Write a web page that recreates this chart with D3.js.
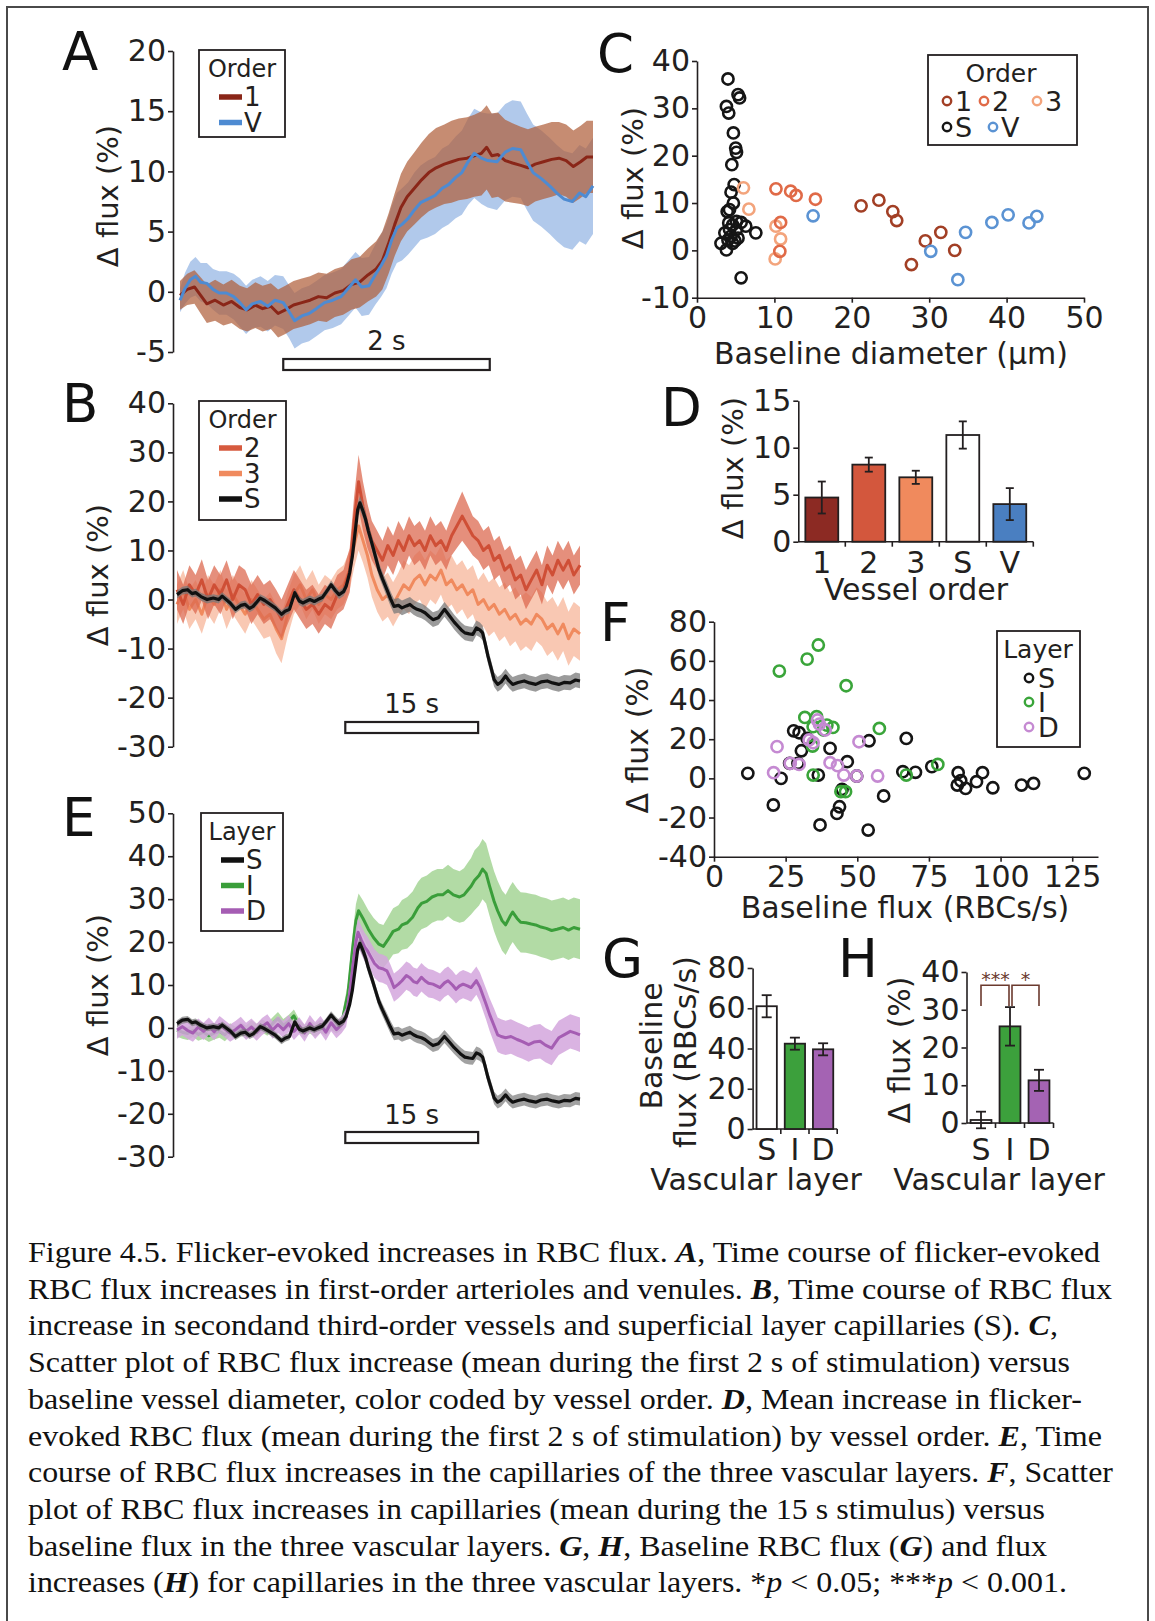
<!DOCTYPE html>
<html><head><meta charset="utf-8">
<script src="https://cdn.jsdelivr.net/npm/d3@7"></script>
<style>body{margin:0;background:#fff}</style>
</head><body>
<script>
// ---------------- DATA ----------------
// Panel A: [time (s), mean Δflux (%), sem]
const aOrder1 = [[-1.00,-0.3,1.2],[-0.93,0.2,1.3],[-0.86,0.4,1.4],[-0.80,-0.3,1.5],[-0.74,-1.0,1.6],[-0.66,-0.7,1.7],[-0.58,-1.1,1.7],[-0.50,-0.8,1.8],[-0.42,-1.3,1.8],[-0.35,-1.5,1.8],[-0.27,-1.1,1.9],[-0.20,-1.4,1.9],[-0.12,-1.2,1.9],[-0.05,-1.8,2.0],[0.02,-1.5,2.0],[0.10,-1.1,2.0],[0.18,-0.9,2.0],[0.26,-0.7,2.0],[0.34,-0.4,2.0],[0.42,-0.5,2.0],[0.50,-0.1,2.0],[0.58,0.1,2.0],[0.66,0.6,2.1],[0.74,0.8,2.1],[0.82,1.4,2.2],[0.90,1.9,2.3],[0.96,2.6,2.4],[1.02,4.0,2.5],[1.08,5.6,2.6],[1.14,7.0,2.8],[1.20,7.9,2.9],[1.27,8.6,3.0],[1.34,9.3,3.1],[1.41,9.9,3.2],[1.48,10.3,3.3],[1.56,10.6,3.3],[1.63,10.8,3.4],[1.70,11.0,3.4],[1.78,11.1,3.4],[1.85,11.3,3.4],[1.92,11.5,3.5],[1.97,12.0,3.5],[2.02,11.3,3.5],[2.08,11.4,3.5],[2.15,10.9,3.4],[2.22,10.7,3.3],[2.30,10.5,3.2],[2.37,10.3,3.2],[2.44,10.6,3.1],[2.52,10.8,3.1],[2.60,11.0,3.1],[2.67,11.1,3.0],[2.74,10.9,3.0],[2.81,10.4,3.0],[2.88,10.8,3.0],[2.94,11.2,3.0],[3.00,11.2,3.0]];
const aVenule = [[-1.00,-0.7,1.0],[-0.95,0.3,1.3],[-0.90,1.0,1.5],[-0.85,1.3,1.6],[-0.80,0.8,1.6],[-0.74,0.7,1.7],[-0.68,0.2,1.7],[-0.62,-0.1,1.8],[-0.55,-0.1,1.8],[-0.48,-0.4,1.9],[-0.42,-0.9,2.0],[-0.36,-1.5,2.0],[-0.30,-1.0,2.0],[-0.22,-0.8,2.1],[-0.15,-1.2,2.1],[-0.08,-0.7,2.1],[0.00,-0.9,2.2],[0.06,-1.7,2.2],[0.11,-2.4,2.3],[0.18,-2.0,2.3],[0.25,-1.8,2.3],[0.32,-1.4,2.3],[0.40,-0.9,2.3],[0.48,-0.7,2.3],[0.56,-0.4,2.3],[0.63,0.3,2.3],[0.70,1.0,2.3],[0.76,0.4,2.4],[0.83,0.5,2.4],[0.89,1.4,2.5],[0.95,2.2,2.6],[1.00,3.0,2.7],[1.05,4.3,2.8],[1.10,5.3,2.9],[1.15,5.6,3.0],[1.21,6.1,3.0],[1.27,6.8,3.1],[1.33,7.4,3.1],[1.40,7.7,3.2],[1.47,8.0,3.2],[1.54,8.6,3.3],[1.60,8.9,3.3],[1.67,9.5,3.4],[1.73,9.9,3.5],[1.79,10.8,3.6],[1.85,11.5,3.7],[1.92,11.1,3.8],[1.98,10.9,3.9],[2.07,10.8,4.0],[2.15,11.6,4.0],[2.22,11.9,4.0],[2.30,11.8,4.0],[2.36,10.8,4.0],[2.42,9.9,4.0],[2.50,9.4,4.0],[2.58,8.8,4.0],[2.65,8.2,4.0],[2.72,7.7,4.0],[2.80,7.5,4.0],[2.87,8.2,4.0],[2.93,7.9,4.0],[3.00,8.8,4.0]];

// Panels B & E: [time (s), mean Δflux (%), sem]
const capS = [[-19.0,1.0,0.8],[-18.4,1.8,0.8],[-17.8,2.0,0.8],[-17.3,1.2,0.8],[-16.9,1.4,0.8],[-16.3,0.6,0.8],[-15.6,0.0,0.8],[-14.9,0.3,0.8],[-14.3,0.0,0.8],[-13.9,0.7,0.8],[-13.0,-0.7,0.8],[-12.4,-2.0,0.8],[-11.8,-1.2,0.8],[-11.3,-1.0,0.8],[-10.8,-1.8,0.8],[-10.4,-1.4,0.8],[-9.6,0.3,0.8],[-9.1,-0.2,0.8],[-8.7,-0.7,0.8],[-7.9,-1.7,0.8],[-7.2,-3.0,0.8],[-6.8,-2.4,0.8],[-6.3,-2.0,0.8],[-5.7,1.4,0.8],[-5.2,-0.3,0.8],[-4.8,-0.7,0.8],[-4.0,0.0,0.8],[-3.5,-0.4,0.8],[-3.1,0.0,0.8],[-2.6,0.4,0.8],[-2.2,1.4,0.8],[-1.6,3.0,0.9],[-1.1,1.8,0.9],[-0.7,1.0,0.9],[-0.2,1.6,0.9],[0.1,2.7,1.0],[0.5,5.5,1.1],[0.8,8.8,1.2],[1.1,13.5,1.3],[1.4,18.3,1.4],[1.65,19.7,1.4],[2.0,18.0,1.4],[2.3,16.3,1.4],[2.6,14.0,1.4],[3.0,11.5,1.4],[3.4,8.8,1.4],[3.8,6.1,1.4],[4.2,4.2,1.4],[4.7,2.0,1.5],[5.1,0.2,1.5],[5.5,-1.4,1.5],[6.0,-1.2,1.5],[6.4,-1.7,1.5],[6.9,-1.3,1.5],[7.3,-1.0,1.5],[7.7,-1.6,1.5],[8.1,-2.0,1.5],[8.6,-2.3,1.5],[9.0,-2.7,1.5],[9.5,-3.5,1.5],[9.9,-4.1,1.5],[10.5,-3.7,1.5],[11.2,-2.0,1.5],[11.8,-3.4,1.5],[12.3,-4.6,1.5],[12.7,-5.4,1.5],[13.1,-6.2,1.5],[13.5,-6.8,1.5],[14.0,-7.0,1.5],[14.4,-7.1,1.5],[14.8,-5.8,1.5],[15.2,-6.2,1.5],[15.5,-6.8,1.5],[15.8,-9.0,1.5],[16.1,-11.5,1.5],[16.5,-14.2,1.5],[16.8,-16.3,1.5],[17.2,-17.3,1.5],[17.6,-16.8,1.5],[18.1,-15.6,1.5],[18.5,-16.6,1.5],[18.9,-17.3,1.5],[19.5,-16.9,1.5],[20.2,-16.6,1.5],[20.8,-17.0,1.5],[21.5,-17.3,1.5],[22.1,-16.8,1.5],[22.8,-16.6,1.5],[23.4,-17.0,1.5],[24.1,-17.3,1.5],[24.7,-16.9,1.5],[25.4,-17.0,1.5],[26.0,-16.4,1.5],[26.5,-16.6,1.5]];
const bOrder2 = [[-19.0,2,4],[-18.3,-1,4],[-17.6,3,4],[-16.9,1,4],[-16.2,4,4.2],[-15.5,0,4],[-14.8,3,4],[-14.1,1,4],[-13.4,4,4],[-12.7,0,4],[-12.0,3,4],[-11.3,2,4],[-10.6,-1,4],[-9.9,1,4],[-9.2,-1,4],[-8.5,0,4],[-7.8,-2,4],[-7.2,-4,4],[-6.5,-1,4],[-5.8,2,4],[-5.1,0,4],[-4.4,-2,4],[-3.7,-1,4],[-3.0,-3,4],[-2.3,-1,4],[-1.6,-2,4],[-0.9,1,4],[-0.2,2,4],[0.5,6,4.5],[1.0,16,5],[1.5,24,5.5],[2.0,19,5],[2.5,15,4.5],[3.0,12,4],[3.6,10,4],[4.2,8,4],[4.8,11,4],[5.4,9,4],[6.0,12,4],[6.6,10,4],[7.2,13,4],[7.8,11,4],[8.4,12,4],[9.0,10,4],[9.6,13,4],[10.2,11,4],[10.8,12,4],[11.4,10,4],[12.0,13,4],[12.6,15,4.5],[13.2,17,5],[13.8,15,4.5],[14.4,13,4],[15.0,12,4],[15.6,10,4],[16.2,11,4],[16.8,8,4],[17.4,9,4],[18.0,6,4],[18.6,7,4],[19.2,4,4],[19.8,5,4],[20.4,2,4],[21.0,4,4],[21.6,6,4],[22.2,3,4],[22.8,7,4],[23.4,5,4],[24.0,8,4],[24.6,6,4],[25.2,8,4],[25.8,5,4],[26.5,7,4]];
const bOrder3 = [[-19.0,-1,4],[-18.3,2,4],[-17.6,-2,4],[-16.9,0,4],[-16.2,-3,4],[-15.5,1,4],[-14.8,-1,4],[-14.1,2,4],[-13.4,-2,4],[-12.7,1,4],[-12.0,-1,4],[-11.3,-3,4],[-10.6,0,4],[-9.9,-2,4],[-9.2,-4,4],[-8.5,-3,4.5],[-7.8,-6,5],[-7.2,-8,5],[-6.5,-3,4.5],[-5.8,1,4],[-5.1,3,4],[-4.4,0,4],[-3.7,2,4],[-3.0,-1,4],[-2.3,1,4],[-1.6,0,4],[-0.9,2,4],[-0.2,3,4],[0.5,6,4],[1.0,11,4.5],[1.5,15,5],[2.0,12,4.5],[2.5,9,4.5],[3.0,5,4.5],[3.6,2,4.5],[4.2,0,4.5],[4.8,1,4.5],[5.4,-1,4.5],[6.0,1,4.5],[6.6,3,5],[7.2,2,5],[7.8,4,5],[8.4,5,5],[9.0,3,5],[9.6,5,5],[10.2,4,5],[10.8,6,5],[11.4,3,5],[12.0,4,5],[12.6,2,5],[13.2,3,5],[13.8,1,5],[14.4,2,5],[15.0,-1,5],[15.6,0,5.5],[16.2,-2,5.5],[16.8,-1,5.5],[17.4,-3,5.5],[18.0,-2,5.5],[18.6,-4,5.5],[19.2,-3,5.5],[19.8,-5,5.5],[20.4,-4,5.5],[21.0,-5,5.5],[21.6,-3,5.5],[22.2,-4,5.5],[22.8,-6,5.5],[23.4,-5,5.5],[24.0,-7,5.5],[24.6,-5,5.5],[25.2,-8,5.5],[25.8,-6,5.5],[26.5,-7,5.5]];
const eLayerI = [[-19,-0.5,1.5],[-18.4,-1.0,1.5],[-17.8,-1.3,1.5],[-17.2,-0.6,1.5],[-16.6,-1.5,1.5],[-16.0,-1.0,1.5],[-15.4,-1.8,1.5],[-14.8,-1.2,1.5],[-14.2,-0.8,1.5],[-13.6,-1.6,1.5],[-13.0,-0.4,1.5],[-12.4,-1.2,1.5],[-11.8,-0.2,1.5],[-11.2,-1.0,1.5],[-10.6,0.3,1.5],[-10.0,-0.6,1.5],[-9.4,0.5,1.5],[-8.8,-0.3,1.5],[-8.2,1.0,1.5],[-7.6,2.2,1.5],[-7.0,0.6,1.5],[-6.4,1.5,1.5],[-5.8,2.8,1.5],[-5.2,0.5,1.5],[-4.6,-0.8,1.5],[-4.0,0.2,1.5],[-3.4,-0.5,1.5],[-2.8,0.4,1.5],[-2.2,-0.4,1.5],[-1.6,1.0,1.5],[-1.0,0.2,1.5],[-0.4,1.2,1.6],[0.3,8,2.5],[0.8,18,3.3],[1.2,25,3.8],[1.5,27.3,4],[2.0,25.5,4.2],[2.6,23,4.4],[3.2,21,4.6],[3.8,19.5,4.8],[4.3,19,5],[4.8,20.5,5.2],[5.4,22.5,5.4],[6.0,23,5.6],[6.4,24,5.8],[7.0,24.5,6],[7.6,25.8,6],[8.2,28,6],[8.6,29,6],[9.2,29.5,6],[9.8,30.5,6],[10.4,31,6],[11.0,31,6],[11.6,32,6],[12.2,31,6],[12.9,30.5,6],[13.4,31,6.2],[13.8,32,6.4],[14.2,33,6.6],[14.6,34.4,7],[15.1,35.5,7],[15.5,37,7],[15.9,36,7],[16.3,33,7],[16.8,29.5,7],[17.2,27.3,7],[17.7,25,7],[18.1,24,7],[18.6,26,7],[18.9,27,7],[19.4,25.5,7],[19.8,24.6,7],[20.4,24.5,7],[21.0,24.2,7],[21.5,24,7],[22.1,23.5,7],[22.7,23.2,7],[23.3,22.7,7],[23.9,23,7],[24.6,23.4,7],[25.2,22.8,7],[25.8,23.4,7],[26.5,23,7]];
const eLayerD = [[-19,-0.5,2],[-18.4,0.3,2],[-17.8,-0.6,2],[-17.2,-1.2,2],[-16.6,0.2,2],[-16.0,-0.8,2],[-15.4,0.4,2],[-14.8,-0.9,2],[-14.2,0.8,2],[-13.6,-0.2,2],[-13.0,-1.2,2],[-12.4,-0.4,2],[-11.8,0.6,2],[-11.2,-0.8,2],[-10.6,0.2,2],[-10.0,-1.0,2],[-9.4,0.3,2],[-8.8,1.2,2],[-8.2,-0.5,2],[-7.6,0.8,2],[-7.0,-0.4,2],[-6.4,1.0,2],[-5.8,-0.8,2],[-5.2,0.5,2],[-4.6,-1.2,2],[-4.0,1.0,2],[-3.4,-0.6,2],[-2.8,0.8,2],[-2.2,-1.0,2],[-1.6,1.2,2],[-1.0,-0.4,2],[-0.4,0.8,2],[0.1,2.5,2.2],[0.5,8,2.6],[0.9,15,3],[1.2,20,3.2],[1.45,22.3,3.3],[1.8,20.5,3.3],[2.2,18.8,3.3],[2.5,18,3.3],[2.9,16.5,3.3],[3.3,15,3.3],[3.8,14,3.3],[4.2,13.8,3.3],[4.7,13.3,3.3],[5.1,11.5,3.3],[5.5,9.4,3.3],[6.0,10.2,3.3],[6.4,11,3.3],[6.9,12.2,3.3],[7.3,11.7,3.3],[7.7,10.8,3.3],[8.1,10.5,3.3],[8.6,11.8,3.3],[9.0,11,3.3],[9.4,10.4,3.3],[9.9,10.2,3.3],[10.3,9.8,3.3],[10.7,9.4,3.3],[11.2,10.5,3.3],[11.6,11,3.3],[12.1,10,3.3],[12.5,9,3.3],[12.9,9.8,3.3],[13.3,10.2,3.3],[13.8,9.8,3.3],[14.2,9.4,3.3],[14.8,11,3.3],[15.2,9.5,3.4],[15.5,7.8,3.5],[15.9,5.5,3.6],[16.3,3.1,3.8],[16.8,0.5,4],[17.2,-1.6,4],[17.6,-2.0,4],[18.1,-2.3,4],[18.7,-2.0,4],[19.4,-2.7,4],[20.0,-3.2,4],[20.7,-3.9,4],[21.3,-3.3,4],[22.0,-3.1,4],[22.6,-4.0,4],[23.3,-4.7,4],[23.7,-3.5,4],[24.1,-2.3,4],[24.8,-1.5,4],[25.4,-0.8,4],[26.0,-1.2,4],[26.5,-1.6,4]];

// Panel C: [baseline diameter (µm), Δflux (%)]
const cOrder1 = [[21.2,9.4],[23.5,10.6],[25.3,8.2],[25.8,6.3],[27.7,-3.0],[29.5,2.0],[31.5,3.8],[33.3,0.0]];
const cOrder2 = [[10.2,13.0],[12.1,12.5],[12.8,11.6],[15.3,10.8],[10.8,5.9],[10.7,-0.2]];
const cOrder3 = [[6.0,13.2],[6.7,8.7],[10.2,5.1],[10.8,2.4],[10.1,-1.8]];
const cS = [[4.0,36.2],[3.8,30.4],[4.1,29.0],[5.5,32.2],[5.3,32.9],[4.7,24.8],[5.0,21.6],[5.1,20.7],[4.5,18.1],[4.8,13.9],[4.4,12.3],[4.7,10.0],[4.2,8.6],[3.9,8.2],[4.1,5.8],[4.6,5.4],[5.7,5.9],[6.3,5.1],[5.1,4.4],[3.6,3.7],[4.4,3.0],[5.3,2.6],[3.1,1.5],[4.6,1.5],[3.8,0.1],[7.6,3.7],[5.7,-5.8],[4.2,4.4],[5.1,6.1],[4.9,2.0],[4.0,2.2]];
const cV = [[15.0,7.3],[30.2,-0.2],[33.7,-6.2],[34.7,3.8],[38.1,5.9],[40.2,7.5],[42.9,5.8],[43.9,7.2]];

// Panel D
const dCats = ['1','2','3','S','V'];
const dMeans = [4.7, 8.2, 6.85, 11.35, 4.0];
const dErrs = [1.7, 0.75, 0.7, 1.45, 1.7];

// Panel F: [baseline flux (RBCs/s), Δflux (%)]
const fS = [[11.8,2.6],[20.7,-13.6],[23.4,0],[27.8,24.3],[29.7,23.3],[26.4,7.7],[30.5,14.1],[29.3,7.7],[32.5,20.4],[36.4,1.7],[37.0,-23.8],[40.5,15.3],[42.9,-17.9],[43.8,-14.5],[44.7,-5.6],[46.5,8.5],[49.8,1.2],[54.1,19.2],[53.8,-26.4],[59.2,-9.0],[65.9,3.4],[67.1,20.4],[70.3,3.1],[76.0,6.0],[85.2,2.9],[84.9,-3.4],[86.1,-1.2],[87.8,-5.1],[91.6,-1.7],[93.7,2.9],[97.3,-4.8],[107.3,-3.4],[111.5,-2.6],[129.2,2.6]];
const fI = [[22.8,54.8],[32.5,60.9],[36.4,68.1],[46.1,47.3],[31.7,31.1],[35.8,31.5],[34.6,26.4],[39.4,27.2],[38.2,24.7],[41.5,26.0],[57.7,25.5],[34.4,16.5],[34.6,1.7],[44.3,-6.8],[45.9,-6.8],[67.1,1.7],[78.1,7.1]];
const fD = [[22.0,16.2],[20.8,2.9],[26.6,7.7],[29.7,7.1],[33.2,19.6],[34.6,18.2],[36.1,29.8],[36.8,27.7],[38.8,24.7],[40.5,8.0],[43.1,6.5],[45.3,1.7],[50.6,18.7],[49.8,1.2],[57.1,1.2]];

// Panels G, H
const layerCats = ['S','I','D'];
const gMeans = [61.0, 42.4, 39.6];
const gErrs = [5.5, 3.0, 3.0];
const hMeans = [0.8, 25.6, 11.3];
const hErrs = [2.2, 5.1, 2.8];

// Tick values
const aTicks = [-5,0,5,10,15,20];
const bTicks = [-30,-20,-10,0,10,20,30,40];
const eTicks = [-30,-20,-10,0,10,20,30,40,50];
const cXTicks = [0,10,20,30,40,50];
const cYTicks = [-10,0,10,20,30,40];
const dYTicks = [0,5,10,15];
const fXTicks = [0,25,50,75,100,125];
const fYTicks = [-40,-20,0,20,40,60,80];
const gYTicks = [0,20,40,60,80];
const hYTicks = [0,10,20,30,40];

const captionLines = [
 [["Figure 4.5. Flicker-evoked increases in RBC flux. ",""],["A","bi"],[", Time course of flicker-evoked",""]],
 [["RBC flux increases in first-order arterioles and venules. ",""],["B","bi"],[", Time course of RBC flux",""]],
 [["increase in secondand third-order vessels and superficial layer capillaries (S). ",""],["C","bi"],[",",""]],
 [["Scatter plot of RBC flux increase (mean during the first 2 s of stimulation) versus",""]],
 [["baseline vessel diameter, color coded by vessel order. ",""],["D","bi"],[", Mean increase in flicker-",""]],
 [["evoked RBC flux (mean during the first 2 s of stimulation) by vessel order. ",""],["E","bi"],[", Time",""]],
 [["course of RBC flux increases in the capillaries of the three vascular layers. ",""],["F","bi"],[", Scatter",""]],
 [["plot of RBC flux increases in capillaries (mean during the 15 s stimulus) versus",""]],
 [["baseline flux in the three vascular layers. ",""],["G","bi"],[", ",""],["H","bi"],[", Baseline RBC flux (",""],["G","bi"],[") and flux",""]],
 [["increases (",""],["H","bi"],[") for capillaries in the three vascular layers. *",""],["p","i"],[" < 0.05; ***",""],["p","i"],[" < 0.001.",""]]
];
const captionLineEnds = [1100, 1112, 1058, 1070, 1082, 1102, 1113, 1045, 1047, 1067];

// ---------------- DRAWING ----------------
const W = 1155, H = 1621;
const FONT = "'DejaVu Sans', Verdana, sans-serif";
const INK = '#231f20';
const svg = d3.select('body').append('svg').attr('width', W).attr('height', H)
  .style('font-family', FONT);
svg.append('rect').attr('width', W).attr('height', H).attr('fill', '#fff');
svg.append('rect').attr('x', 7).attr('y', 7).attr('width', 1141).attr('height', 1660)
  .attr('fill', 'none').attr('stroke', '#4a4a4a').attr('stroke-width', 2);

const fmt = d => String(d);
function styleAxis(g, fs) {
  g.select('path.domain').attr('stroke', INK).attr('stroke-width', 1.6);
  g.selectAll('.tick line').attr('stroke', INK).attr('stroke-width', 1.6);
  g.selectAll('.tick text').attr('fill', INK).style('font-size', fs + 'px').style('font-family', FONT);
}
function yAxis(x0, y, ticks, fs = 30) {
  const g = svg.append('g').attr('transform', `translate(${x0},0)`)
    .call(d3.axisLeft(y).tickValues(ticks).tickSize(5).tickSizeOuter(0).tickPadding(2).tickFormat(fmt));
  styleAxis(g, fs); return g;
}
function xAxis(y0, x, ticks, fs = 30) {
  const g = svg.append('g').attr('transform', `translate(0,${y0})`)
    .call(d3.axisBottom(x).tickValues(ticks).tickSize(5).tickSizeOuter(0).tickPadding(4).tickFormat(fmt));
  styleAxis(g, fs); return g;
}
function letter(t, x, y) {
  svg.append('text').attr('x', x).attr('y', y).text(t).attr('fill', '#111')
    .style('font-size', '53px');
}
function ylabel(t, x, y, fs = 29) {
  svg.append('text').attr('transform', `translate(${x},${y}) rotate(-90)`)
    .attr('text-anchor', 'middle').attr('dominant-baseline', 'central')
    .attr('fill', INK).style('font-size', fs + 'px').text(t);
}
function xlabel(t, x, y, fs = 30) {
  svg.append('text').attr('x', x).attr('y', y).attr('text-anchor', 'middle')
    .attr('fill', INK).style('font-size', fs + 'px').text(t);
}
function band(x, y, data, color, op) {
  svg.append('path').datum(data)
    .attr('d', d3.area().x(d => x(d[0])).y0(d => y(d[1] - d[2])).y1(d => y(d[1] + d[2])))
    .attr('fill', color).attr('opacity', op);
}
function meanLine(x, y, data, color, lw) {
  svg.append('path').datum(data)
    .attr('d', d3.line().x(d => x(d[0])).y(d => y(d[1])))
    .attr('fill', 'none').attr('stroke', color).attr('stroke-width', lw).attr('stroke-linejoin', 'round');
}
function scaleBar(x, t0, t1, yTop, label, labelY) {
  svg.append('rect').attr('x', x(t0)).attr('y', yTop).attr('width', x(t1) - x(t0)).attr('height', 11)
    .attr('fill', '#fff').attr('stroke', INK).attr('stroke-width', 2.2);
  svg.append('text').attr('x', (x(t0) + x(t1)) / 2).attr('y', labelY).attr('text-anchor', 'middle')
    .attr('fill', INK).style('font-size', '26px').text(label);
}
function lineLegend(x0, y0, w, h, title, items) {
  svg.append('rect').attr('x', x0).attr('y', y0).attr('width', w).attr('height', h)
    .attr('fill', '#fff').attr('stroke', INK).attr('stroke-width', 1.8);
  svg.append('text').attr('x', x0 + w / 2).attr('y', y0 + 27).attr('text-anchor', 'middle')
    .attr('fill', INK).style('font-size', '24px').text(title);
  items.forEach((it, i) => {
    const yy = y0 + 47 + i * 25.5;
    svg.append('line').attr('x1', x0 + 20).attr('x2', x0 + 43).attr('y1', yy).attr('y2', yy)
      .attr('stroke', it.c).attr('stroke-width', 5.5);
    svg.append('text').attr('x', x0 + 45).attr('y', yy + 9).attr('fill', INK)
      .style('font-size', '26px').text(it.t);
  });
}

// ----- Panel A -----
const xA = d3.scaleLinear().domain([-1, 3]).range([180, 593]);
const yA = d3.scaleLinear().domain([-5, 20]).range([352, 51]);
band(xA, yA, aVenule, '#a3bfe7', 0.85);
band(xA, yA, aOrder1, '#b05f3c', 0.72);
meanLine(xA, yA, aOrder1, '#8a2618', 3);
meanLine(xA, yA, aVenule, '#4e8bd2', 3);
yAxis(173, yA, aTicks);
scaleBar(xA, 0, 2, 359, '2 s', 350);
lineLegend(199, 50, 86, 87, 'Order', [{c: '#8a2618', t: '1'}, {c: '#4e8bd2', t: 'V'}]);
letter('A', 62, 70);
ylabel('Δ flux (%)', 108, 196);

// ----- Panel B -----
const xB = d3.scaleLinear().domain([-19, 26.5]).range([177, 580]);
const yB = d3.scaleLinear().domain([-30, 40]).range([746.7, 403.3]);
band(xB, yB, bOrder3, '#f7b59a', 0.75); meanLine(xB, yB, bOrder3, '#f08a5e', 3);
band(xB, yB, bOrder2, '#dc6a50', 0.75); meanLine(xB, yB, bOrder2, '#cf4f36', 3);
band(xB, yB, capS, '#7a7a7a', 0.75); meanLine(xB, yB, capS, '#111', 3.2);
yAxis(173, yB, bTicks);
scaleBar(xB, 0, 15, 722, '15 s', 713);
lineLegend(199, 401, 87, 119, 'Order', [{c: '#d65a3e', t: '2'}, {c: '#f08a5e', t: '3'}, {c: '#111', t: 'S'}]);
letter('B', 62, 422);
ylabel('Δ flux (%)', 98, 575);

// ----- Panel E -----
const yE = d3.scaleLinear().domain([-30, 50]).range([1156.7, 813.3]);
band(xB, yE, eLayerI, '#9fd28f', 0.8); meanLine(xB, yE, eLayerI, '#3a9e3a', 3);
band(xB, yE, eLayerD, '#d3a6dd', 0.85); meanLine(xB, yE, eLayerD, '#a55db3', 3);
band(xB, yE, capS, '#7a7a7a', 0.7); meanLine(xB, yE, capS, '#111', 3.2);
yAxis(173, yE, eTicks);
scaleBar(xB, 0, 15, 1132, '15 s', 1124);
lineLegend(201, 813, 82, 118, 'Layer', [{c: '#111', t: 'S'}, {c: '#3a9e3a', t: 'I'}, {c: '#a55db3', t: 'D'}]);
letter('E', 62, 836);
ylabel('Δ flux (%)', 98, 985);

// ----- Panel C -----
const xC = d3.scaleLinear().domain([0, 50]).range([697, 1084]);
const yC = d3.scaleLinear().domain([-10, 40]).range([297.7, 61]);
xAxis(297.7, xC, cXTicks);
yAxis(697, yC, cYTicks);
const cGroups = [
  {d: cS, c: '#151515'}, {d: cOrder3, c: '#f3a47c'}, {d: cOrder2, c: '#e06a47'},
  {d: cOrder1, c: '#a23f25'}, {d: cV, c: '#5b93d3'}
];
cGroups.forEach(gp => {
  svg.append('g').selectAll('circle').data(gp.d).join('circle')
    .attr('cx', d => xC(d[0])).attr('cy', d => yC(d[1])).attr('r', 5.6)
    .attr('fill', 'none').attr('stroke', gp.c).attr('stroke-width', 2.6);
});
svg.append('rect').attr('x', 928).attr('y', 55).attr('width', 149).attr('height', 90)
  .attr('fill', 'none').attr('stroke', INK).attr('stroke-width', 1.8);
svg.append('text').attr('x', 1001).attr('y', 82).attr('text-anchor', 'middle').attr('fill', INK)
  .style('font-size', '25px').text('Order');
[{x: 947, y: 101, c: '#a23f25', t: '1'}, {x: 984, y: 101, c: '#e06a47', t: '2'}, {x: 1037, y: 101, c: '#f3a47c', t: '3'},
 {x: 947, y: 127, c: '#151515', t: 'S'}, {x: 993, y: 127, c: '#5b93d3', t: 'V'}].forEach(it => {
  svg.append('circle').attr('cx', it.x).attr('cy', it.y).attr('r', 4.2).attr('fill', 'none')
    .attr('stroke', it.c).attr('stroke-width', 2.4);
  svg.append('text').attr('x', it.x + 8).attr('y', it.y + 10).attr('fill', INK)
    .style('font-size', '27px').text(it.t);
});
letter('C', 597, 72);
ylabel('Δ flux (%)', 633, 178);
xlabel('Baseline diameter (μm)', 891, 364);

// ----- bar chart helper -----
function barChart(cats, means, errs, colors, x0, x1, yScale, ticks, tickLabelY, capW, pad) {
  const xb = d3.scaleBand().domain(cats).range([x0, x1]).paddingInner(pad).paddingOuter(pad / 2);
  const step = xb.step();
  yAxis(x0, yScale, ticks);
  const y0 = yScale(0);
  svg.append('line').attr('x1', x0).attr('x2', x1).attr('y1', y0).attr('y2', y0)
    .attr('stroke', INK).attr('stroke-width', 1.6);
  cats.forEach((c, i) => {
    const bx = x0 + step * (i + 1);
    svg.append('line').attr('x1', bx).attr('x2', bx).attr('y1', y0).attr('y2', y0 + 5)
      .attr('stroke', INK).attr('stroke-width', 1.6);
  });
  svg.append('g').selectAll('rect').data(cats).join('rect')
    .attr('x', c => xb(c)).attr('width', xb.bandwidth())
    .attr('y', (c, i) => yScale(means[i])).attr('height', (c, i) => y0 - yScale(means[i]))
    .attr('fill', (c, i) => colors[i]).attr('stroke', INK).attr('stroke-width', 1.8);
  cats.forEach((c, i) => {
    const cx = xb(c) + xb.bandwidth() / 2;
    const yt = yScale(means[i] + errs[i]), yb = yScale(means[i] - errs[i]);
    const g = svg.append('g').attr('stroke', INK).attr('stroke-width', 1.8);
    g.append('line').attr('x1', cx).attr('x2', cx).attr('y1', yt).attr('y2', yb);
    g.append('line').attr('x1', cx - capW).attr('x2', cx + capW).attr('y1', yt).attr('y2', yt);
    g.append('line').attr('x1', cx - capW).attr('x2', cx + capW).attr('y1', yb).attr('y2', yb);
    svg.append('text').attr('x', cx).attr('y', tickLabelY).attr('text-anchor', 'middle')
      .attr('fill', INK).style('font-size', '30px').text(c);
  });
  return xb;
}

// ----- Panel D -----
const yD = d3.scaleLinear().domain([0, 15]).range([541.7, 400.7]);
barChart(dCats, dMeans, dErrs, ['#8c2a23', '#d3573d', '#f08a5d', '#ffffff', '#4a7fc1'],
  798.3, 1033.3, yD, dYTicks, 573, 4, 0.3);
letter('D', 661, 426);
ylabel('Δ flux (%)', 733, 468, 29);
xlabel('Vessel order', 916, 600);

// ----- Panel F -----
const xF = d3.scaleLinear().domain([0, 134]).range([714, 1098]);
const yF = d3.scaleLinear().domain([-40, 80]).range([856.7, 621.7]);
xAxis(856.7, xF, fXTicks);
yAxis(714, yF, fYTicks);
[{d: fS, c: '#151515'}, {d: fI, c: '#3aa53a'}, {d: fD, c: '#c58ad2'}].forEach(gp => {
  svg.append('g').selectAll('circle').data(gp.d).join('circle')
    .attr('cx', d => xF(d[0])).attr('cy', d => yF(d[1])).attr('r', 5.6)
    .attr('fill', 'none').attr('stroke', gp.c).attr('stroke-width', 2.6);
});
svg.append('rect').attr('x', 997).attr('y', 631).attr('width', 83).attr('height', 116)
  .attr('fill', 'none').attr('stroke', INK).attr('stroke-width', 1.8);
svg.append('text').attr('x', 1038).attr('y', 658).attr('text-anchor', 'middle').attr('fill', INK)
  .style('font-size', '25px').text('Layer');
[{y: 678, c: '#151515', t: 'S'}, {y: 702, c: '#3aa53a', t: 'I'}, {y: 727, c: '#c58ad2', t: 'D'}].forEach(it => {
  svg.append('circle').attr('cx', 1029).attr('cy', it.y).attr('r', 4.2).attr('fill', 'none')
    .attr('stroke', it.c).attr('stroke-width', 2.4);
  svg.append('text').attr('x', 1038).attr('y', it.y + 10).attr('fill', INK)
    .style('font-size', '27px').text(it.t);
});
letter('F', 600, 641);
ylabel('Δ flux (%)', 637, 740, 30);
xlabel('Baseline flux (RBCs/s)', 905, 918);

// ----- Panel G -----
const yG = d3.scaleLinear().domain([0, 80]).range([1129, 968]);
barChart(layerCats, gMeans, gErrs, ['#ffffff', '#3ca03c', '#a463b3'], 752.6, 837.2, yG, gYTicks, 1160, 5, 0.28);
letter('G', 602, 977);
svg.append('text').attr('transform', 'translate(651,1046) rotate(-90)').attr('text-anchor', 'middle')
  .attr('dominant-baseline', 'central').attr('fill', INK).style('font-size', '30px').text('Baseline');
svg.append('text').attr('transform', 'translate(685,1052) rotate(-90)').attr('text-anchor', 'middle')
  .attr('dominant-baseline', 'central').attr('fill', INK).style('font-size', '30px').text('flux (RBCs/s)');
xlabel('Vascular layer', 756, 1190);

// ----- Panel H -----
const yH = d3.scaleLinear().domain([0, 40]).range([1123, 972]);
const xH = barChart(layerCats, hMeans, hErrs, ['#ffffff', '#3ca03c', '#a463b3'], 966.5, 1053.5, yH, hYTicks, 1160, 5, 0.28);
const cH = c => xH(c) + xH.bandwidth() / 2;
const brk = svg.append('g').attr('stroke', '#6b3a2e').attr('stroke-width', 1.6).attr('fill', 'none');
const bTop = yH(36.5), bLeg = yH(31);
brk.append('path').attr('d', `M${cH('S')},${bLeg}V${bTop}H${cH('I') - 1}V${bLeg}`);
brk.append('path').attr('d', `M${cH('I') + 2},${bLeg}V${bTop}H${cH('D')}V${bLeg}`);
svg.append('text').attr('x', (cH('S') + cH('I')) / 2).attr('y', bTop + 1).attr('text-anchor', 'middle')
  .attr('fill', '#6b3a2e').style('font-size', '19px').text('***');
svg.append('text').attr('x', (cH('I') + cH('D')) / 2 + 1).attr('y', bTop + 1).attr('text-anchor', 'middle')
  .attr('fill', '#6b3a2e').style('font-size', '19px').text('*');
letter('H', 838, 977);
ylabel('Δ flux (%)', 899, 1050, 30);
xlabel('Vascular layer', 999, 1190);

// ----- Caption -----
const cap = svg.append('g').style('font-family', "'Liberation Serif', 'Times New Roman', serif")
  .style('font-size', '30px').attr('fill', '#111');
captionLines.forEach((segs, i) => {
  const t = cap.append('text').attr('x', 28).attr('y', 1262 + i * 36.7)
    .attr('textLength', captionLineEnds[i] - 28).attr('lengthAdjust', 'spacingAndGlyphs');
  segs.forEach(s => {
    const ts = t.append('tspan').text(s[0]);
    if (s[1] === 'bi') ts.style('font-weight', 'bold').style('font-style', 'italic');
    if (s[1] === 'i') ts.style('font-style', 'italic');
  });
});
</script>
</body></html>
